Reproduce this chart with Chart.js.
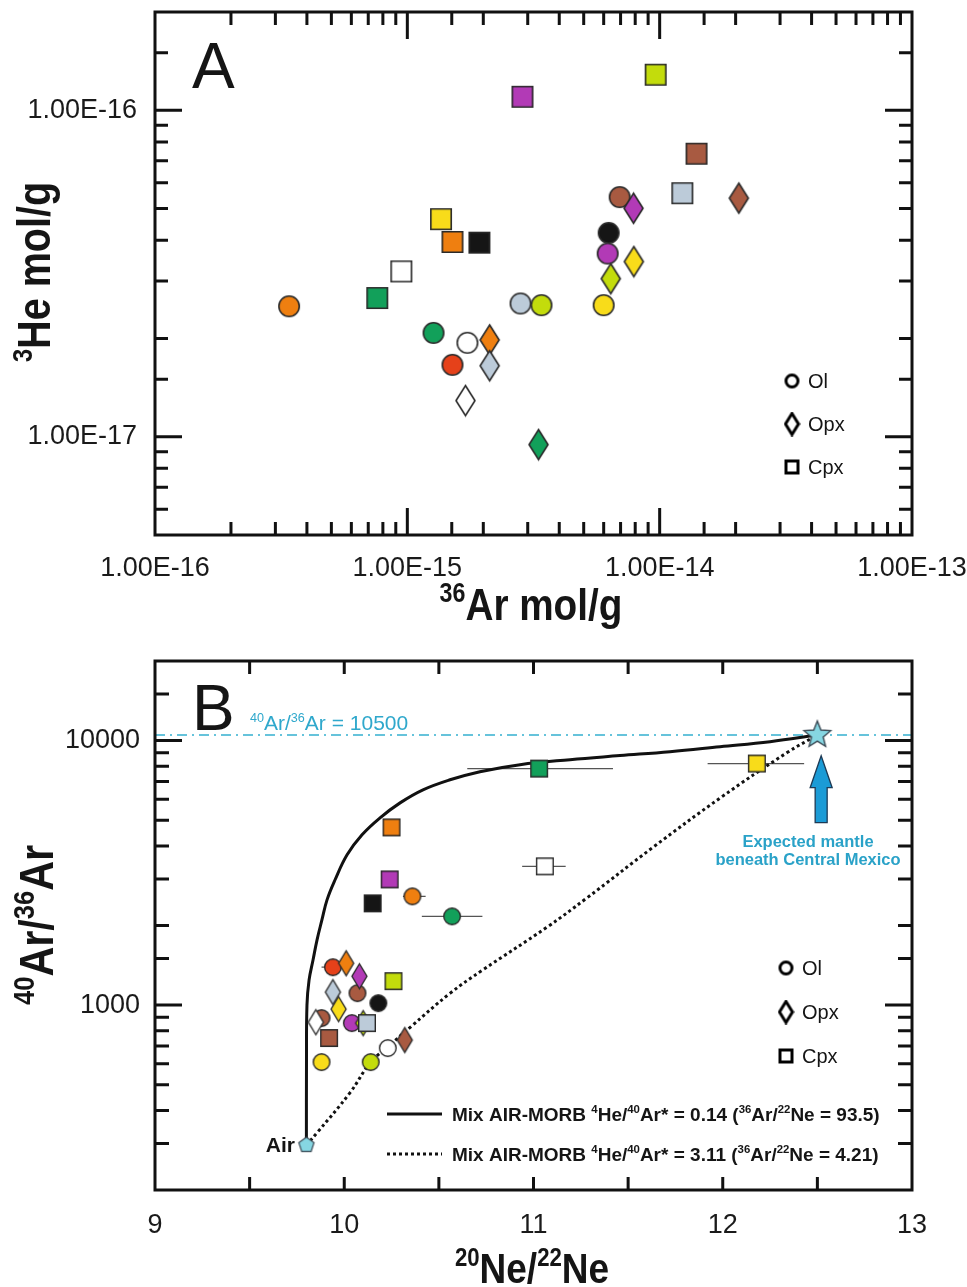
<!DOCTYPE html>
<html>
<head>
<meta charset="utf-8">
<script src="https://cdn.jsdelivr.net/npm/chart.js@4.4.1/dist/chart.umd.min.js"></script>
<style>
  body { margin: 0; background: #fff; }
  canvas { position: absolute; left: 0; }
  #chartA { top: 0; }
  #chartB { top: 640px; }
</style>
</head>
<body>
<canvas id="chartA" width="967" height="640"></canvas>
<canvas id="chartB" width="967" height="647"></canvas>
<script>
// sample colours
const purple = '#b23ab6', lime = '#c3dc0c', brown = '#a85a41', grey = '#bccbd9', yellow = '#f8dc1a',
      orange = '#ef7f10', black = '#151515', white = '#ffffff', green = '#12a05a', red = '#e5411a';

// ---- panel A : 36Ar (mol/g) vs 3He (mol/g) ----
const olAr36A = [3.40e-16, 1.27e-15, 1.73e-15, 1.51e-15, 2.81e-15, 3.40e-15, 6.0e-15, 6.28e-15, 6.22e-15, 6.94e-15];
const olHe3A  = [2.51e-17, 2.08e-17, 1.94e-17, 1.66e-17, 2.56e-17, 2.53e-17, 2.53e-17, 4.21e-17, 3.64e-17, 5.42e-17];
const olColA  = [orange, green, white, red, grey, lime, yellow, black, purple, brown];

const opxAr36A = [7.88e-15, 2.06e-14, 7.9e-15, 6.4e-15, 2.12e-15, 2.12e-15, 1.70e-15, 3.31e-15];
const opxHe3A  = [5.01e-17, 5.38e-17, 3.44e-17, 3.05e-17, 1.98e-17, 1.65e-17, 1.29e-17, 9.46e-18];
const opxColA  = [purple, brown, yellow, lime, orange, grey, white, green];

const cpxAr36A = [2.86e-15, 9.64e-15, 1.40e-14, 1.23e-14, 1.36e-15, 1.51e-15, 1.93e-15, 9.47e-16, 7.6e-16];
const cpxHe3A  = [1.10e-16, 1.285e-16, 7.36e-17, 5.57e-17, 4.64e-17, 3.95e-17, 3.93e-17, 3.21e-17, 2.66e-17];
const cpxColA  = [purple, lime, brown, grey, yellow, orange, black, white, green];

// ---- panel B : 20Ne/22Ne vs 40Ar/36Ar ----
const olNeB  = [10.36, 10.57, 9.94, 10.07, 10.18, 9.88, 10.04, 10.23, 9.88, 10.14];
const olArB  = [2578, 2166, 1391, 1110, 1017, 893, 855, 688, 609, 609];
const olColB = [orange, green, red, brown, black, brown, purple, white, yellow, lime];
const olErrLo = [10.31, 10.41, 9.88, null, null, null, null, 10.19, null, null];
const olErrHi = [10.43, 10.73, 9.98, null, null, null, null, 10.26, null, null];

const opxNeB  = [10.01, 10.08, 9.94, 9.97, 9.85, 10.10, 10.32];
const opxArB  = [1440, 1286, 1120, 966, 862, 855, 738];
const opxColB = [orange, purple, grey, yellow, white, lime, brown];

const cpxNeB  = [11.03, 12.18, 10.25, 10.24, 11.06, 10.15, 10.26, 10.12, 9.92];
const cpxArB  = [7839, 8190, 4697, 2988, 3347, 2426, 1232, 855, 751];
const cpxColB = [green, yellow, orange, purple, white, black, lime, grey, brown];
const cpxErrLo = [10.65, 11.92, null, null, 10.94, null, null, null, null];
const cpxErrHi = [11.42, 12.43, null, null, 11.17, null, null, null, null];

const airNe = [9.80], airAr = [295.5];
const mantleNe = [12.5], mantleAr = [10500];
const mantleLineNe = [9, 13], mantleLineAr = [10500, 10500];

// mixing curves
const mixANe = [9.800, 9.8005, 9.803, 9.814, 9.835, 9.856, 9.882, 9.909, 9.951, 10.015, 10.094, 10.189, 10.295,
                10.416, 10.559, 10.717, 10.929, 11.193, 11.457, 11.721, 11.986, 12.25, 12.5];
const mixAAr = [295.5, 619, 1000, 1243, 1481, 1762, 2099, 2500, 2972, 3700, 4406, 5105, 5816,
                6515, 7110, 7632, 8113, 8474, 8778, 9085, 9487, 9910, 10500];
const mixBNe = [9.80, 9.856, 10.03, 10.14, 10.23, 10.35, 10.56, 10.73, 11.07, 11.28, 11.63, 11.99, 12.34, 12.5];
const mixBAr = [295.5, 329, 466, 609, 695, 826, 1110, 1355, 1968, 2535, 3944, 6095, 9010, 10500];

const FONT = 'Liberation Sans, Arial, sans-serif';
const teal = '#2fa8cc';

function pts(xs, ys) { return xs.map((x, i) => ({ x: x, y: ys[i] })); }
function isDecade(v) { const l = Math.log10(v); return Math.abs(l - Math.round(l)) < 1e-6; }

// marker images used as point styles
function marker(shape, fill, w, h, lw, stroke) {
  const c = document.createElement('canvas');
  c.width = Math.ceil(w) + 4; c.height = Math.ceil(h) + 4;
  const g = c.getContext('2d');
  g.translate(c.width / 2, c.height / 2);
  g.beginPath();
  if (shape === 'circle') {
    g.arc(0, 0, w / 2 - lw / 2, 0, Math.PI * 2);
  } else if (shape === 'square') {
    g.rect(-w / 2 + lw / 2, -h / 2 + lw / 2, w - lw, h - lw);
  } else if (shape === 'diamond') {
    g.moveTo(0, -h / 2); g.lineTo(w / 2, 0); g.lineTo(0, h / 2); g.lineTo(-w / 2, 0); g.closePath();
  } else if (shape === 'star') {
    for (let i = 0; i < 10; i++) {
      const r = i % 2 ? w * 0.22 : w / 2;
      const a = -Math.PI / 2 + i * Math.PI / 5;
      g.lineTo(r * Math.cos(a), r * Math.sin(a));
    }
    g.closePath();
  } else if (shape === 'pentagon') {
    for (let i = 0; i < 5; i++) {
      const a = -Math.PI / 2 + i * 2 * Math.PI / 5;
      g.lineTo(w / 2 * Math.cos(a), w / 2 * Math.sin(a));
    }
    g.closePath();
  }
  if (fill) { g.fillStyle = fill; g.fill(); }
  g.lineJoin = 'miter';
  g.lineWidth = lw; g.strokeStyle = stroke || '#2a2a2a'; g.stroke();
  return c;
}

// text with superscripts: parts = [[text, isSup], ...]; y is the baseline
function rich(ctx, parts, x, y, o) {
  const w8 = o.bold ? 'bold ' : '';
  ctx.save();
  ctx.translate(x, y);
  if (o.rot) ctx.rotate(o.rot);
  ctx.scale(o.sx || 1, 1);
  ctx.fillStyle = o.color || '#151515';
  ctx.textAlign = 'left';
  ctx.textBaseline = 'alphabetic';
  const fonts = parts.map(p => w8 + (p[1] ? o.size * (o.supScale || 0.6) : o.size) + 'px ' + FONT);
  const ws = [];
  let total = 0;
  parts.forEach((p, i) => { ctx.font = fonts[i]; const w = ctx.measureText(p[0]).width; ws.push(w); total += w; });
  let cx = o.align === 'center' ? -total / 2 : (o.align === 'right' ? -total : 0);
  parts.forEach((p, i) => {
    ctx.font = fonts[i];
    ctx.fillText(p[0], cx, p[1] ? -o.size * 0.4 : 0);
    cx += ws[i];
  });
  ctx.restore();
}

// box and inward tick marks
function frameTicks(xMajor, xMinor, yMajor, yMinor) {
  return {
    id: 'frameTicks',
    afterDatasetsDraw(chart) {
      const ctx = chart.ctx, a = chart.chartArea;
      const sx = chart.scales.x, sy = chart.scales.y;
      ctx.save();
      ctx.strokeStyle = '#111';
      ctx.lineWidth = 3;
      ctx.lineCap = 'butt';
      ctx.beginPath();
      sx.ticks.forEach(t => {
        const px = sx.getPixelForValue(t.value);
        if (px <= a.left + 1 || px >= a.right - 1) return;
        const len = (sx.type === 'logarithmic' && isDecade(t.value)) ? xMajor : xMinor;
        ctx.moveTo(px, a.bottom); ctx.lineTo(px, a.bottom - len);
        ctx.moveTo(px, a.top); ctx.lineTo(px, a.top + len);
      });
      sy.ticks.forEach(t => {
        const py = sy.getPixelForValue(t.value);
        if (py <= a.top + 1 || py >= a.bottom - 1) return;
        const len = isDecade(t.value) ? yMajor : yMinor;
        ctx.moveTo(a.left, py); ctx.lineTo(a.left + len, py);
        ctx.moveTo(a.right, py); ctx.lineTo(a.right - len, py);
      });
      ctx.stroke();
      ctx.strokeRect(a.left, a.top, a.right - a.left, a.bottom - a.top);
      ctx.restore();
    }
  };
}

function drawLegend(ctx, items, x, y0, dy, size) {
  items.forEach((it, i) => {
    const y = y0 + i * dy;
    ctx.drawImage(it[0], x - it[0].width / 2, y - it[0].height / 2);
    ctx.font = size + 'px ' + FONT;
    ctx.fillStyle = '#151515';
    ctx.textBaseline = 'middle';
    ctx.fillText(it[1], x + 16, y + 1);
  });
}

const tickFont = { family: FONT, size: 27 };
const tickFontB = { family: 'Liberation Sans Narrow, Liberation Sans, Arial, sans-serif', size: 27 };

// ================= panel A =================
const annotA = {
  id: 'annotA',
  afterDraw(chart) {
    const ctx = chart.ctx;
    rich(ctx, [['A', false]], 192, 88, { size: 64 });
    rich(ctx, [['3', true], ['He mol/g', false]], 50, 272, { size: 46, bold: true, rot: -Math.PI / 2, align: 'center', sx: 0.86 });
    rich(ctx, [['36', true], ['Ar mol/g', false]], 531, 620, { size: 45, bold: true, align: 'center', sx: 0.86 });
    drawLegend(ctx, [
      [marker('circle', null, 15, 15, 3, '#000'), 'Ol'],
      [marker('diamond', null, 13, 21, 3, '#000'), 'Opx'],
      [marker('square', null, 15, 15, 3, '#000'), 'Cpx']
    ], 792, 381, 43, 20);
  }
};

new Chart(document.getElementById('chartA'), {
  type: 'scatter',
  data: {
    datasets: [
      { label: 'Cpx', data: pts(cpxAr36A, cpxHe3A), order: 1, pointRadius: 11,
        pointStyle: cpxColA.map(c => marker('square', c, 22, 22, 1.6)) },
      { label: 'Opx', data: pts(opxAr36A, opxHe3A), order: 2, pointRadius: 11,
        pointStyle: opxColA.map(c => marker('diamond', c, 19, 30, 1.6)) },
      { label: 'Ol', data: pts(olAr36A, olHe3A), order: 3, pointRadius: 11,
        pointStyle: olColA.map(c => marker('circle', c, 22, 22, 1.6)) }
    ]
  },
  options: {
    responsive: false, animation: false, devicePixelRatio: 1,
    layout: { padding: { left: 0, right: 55, top: 8, bottom: 0 } },
    plugins: { legend: { display: false }, tooltip: { enabled: false } },
    scales: {
      x: {
        type: 'logarithmic', min: 1e-16, max: 1e-13,
        grid: { display: false, drawTicks: false }, border: { display: false },
        ticks: { autoSkip: false, maxRotation: 0, padding: 17, font: tickFont, color: '#1a1a1a',
          callback: v => isDecade(v) ? Number(v).toExponential(2).toUpperCase() : '' },
        afterFit: s => { s.height = 105; s.paddingLeft = 0; s.paddingRight = 0; }
      },
      y: {
        type: 'logarithmic', min: 5e-18, max: 2e-16,
        grid: { display: false, drawTicks: false }, border: { display: false },
        ticks: { autoSkip: false, padding: 18, font: tickFont, color: '#1a1a1a',
          callback: v => isDecade(v) ? Number(v).toExponential(2).toUpperCase() : '' },
        afterFit: s => { s.width = 155; s.paddingTop = 0; s.paddingBottom = 0; }
      }
    }
  },
  plugins: [frameTicks(27, 13, 27, 13), annotA]
});

// ================= panel B =================
const errorBars = {
  id: 'errorBars',
  beforeDatasetsDraw(chart) {
    const ctx = chart.ctx, sx = chart.scales.x, sy = chart.scales.y;
    ctx.save();
    ctx.strokeStyle = '#555';
    ctx.lineWidth = 1.2;
    ctx.beginPath();
    [[olArB, olErrLo, olErrHi], [cpxArB, cpxErrLo, cpxErrHi]].forEach(g => {
      g[0].forEach((v, i) => {
        if (g[1][i] == null) return;
        const py = sy.getPixelForValue(v);
        ctx.moveTo(sx.getPixelForValue(g[1][i]), py);
        ctx.lineTo(sx.getPixelForValue(g[2][i]), py);
      });
    });
    ctx.stroke();
    ctx.restore();
  }
};

const annotB = {
  id: 'annotB',
  afterDraw(chart) {
    const ctx = chart.ctx, sx = chart.scales.x, sy = chart.scales.y;
    rich(ctx, [['B', false]], 192, 90, { size: 64 });
    rich(ctx, [['40', true], ['Ar/', false], ['36', true], ['Ar = 10500', false]], 250, 90, { size: 21, color: teal, supScale: 0.6 });
    rich(ctx, [['Expected mantle', false]], 808, 207, { size: 16.5, bold: true, align: 'center', color: '#2aa2c8' });
    rich(ctx, [['beneath Central Mexico', false]], 808, 225, { size: 16.5, bold: true, align: 'center', color: '#2aa2c8' });
    rich(ctx, [['Air', false]], 295, 512, { size: 21, bold: true, align: 'right' });

    // arrow pointing at the mantle end-member
    const ax = sx.getPixelForValue(12.52);
    const yTip = sy.getPixelForValue(8770), yTail = sy.getPixelForValue(4900);
    const yNeck = yTip + 32;
    ctx.save();
    ctx.beginPath();
    ctx.moveTo(ax, yTip);
    ctx.lineTo(ax + 11, yNeck);
    ctx.lineTo(ax + 6, yNeck);
    ctx.lineTo(ax + 6, yTail);
    ctx.lineTo(ax - 6, yTail);
    ctx.lineTo(ax - 6, yNeck);
    ctx.lineTo(ax - 11, yNeck);
    ctx.closePath();
    ctx.fillStyle = '#1b9bd6';
    ctx.fill();
    ctx.strokeStyle = '#1d3a55';
    ctx.lineWidth = 1.3;
    ctx.stroke();
    ctx.restore();

    // legends
    drawLegend(ctx, [
      [marker('circle', null, 15, 15, 3, '#000'), 'Ol'],
      [marker('diamond', null, 13, 21, 3, '#000'), 'Opx'],
      [marker('square', null, 15, 15, 3, '#000'), 'Cpx']
    ], 786, 328, 44, 20);

    ctx.save();
    ctx.strokeStyle = '#111';
    ctx.lineWidth = 3;
    ctx.beginPath(); ctx.moveTo(387, 474); ctx.lineTo(442, 474); ctx.stroke();
    ctx.setLineDash([3, 3]);
    ctx.beginPath(); ctx.moveTo(387, 514); ctx.lineTo(442, 514); ctx.stroke();
    ctx.restore();
    rich(ctx, [['Mix AIR-MORB ', false], ['4', true], ['He/', false], ['40', true], ['Ar* = 0.14 (', false], ['36', true], ['Ar/', false], ['22', true], ['Ne = 93.5)', false]],
      452, 481, { size: 19, bold: true, sx: 1.0 });
    rich(ctx, [['Mix AIR-MORB ', false], ['4', true], ['He/', false], ['40', true], ['Ar* = 3.11 (', false], ['36', true], ['Ar/', false], ['22', true], ['Ne = 4.21)', false]],
      452, 521, { size: 19, bold: true, sx: 1.0 });

    rich(ctx, [['40', true], ['Ar/', false], ['36', true], ['Ar', false]], 53, 285, { size: 48, bold: true, rot: -Math.PI / 2, align: 'center', sx: 0.86, supScale: 0.62 });
    rich(ctx, [['20', true], ['Ne/', false], ['22', true], ['Ne', false]], 532, 643, { size: 43, bold: true, align: 'center', sx: 0.86 });
  }
};

new Chart(document.getElementById('chartB'), {
  type: 'scatter',
  data: {
    datasets: [
      { label: 'mantle', data: pts(mantleNe, mantleAr), order: 0, pointRadius: 13,
        pointStyle: [marker('star', '#86d6e2', 28, 28, 1.4, '#3c4a55')] },
      { label: 'air', data: pts(airNe, airAr), order: 0, pointRadius: 8,
        pointStyle: [marker('pentagon', '#86d6e2', 16, 16, 1.2, '#3c4a55')] },
      { label: 'Cpx', data: pts(cpxNeB, cpxArB), order: 1, pointRadius: 9,
        pointStyle: cpxColB.map(c => marker('square', c, 18, 18, 1.4)) },
      { label: 'Opx', data: pts(opxNeB, opxArB), order: 2, pointRadius: 9,
        pointStyle: opxColB.map(c => marker('diamond', c, 15, 25, 1.4)) },
      { label: 'Ol', data: pts(olNeB, olArB), order: 3, pointRadius: 9,
        pointStyle: olColB.map(c => marker('circle', c, 18, 18, 1.4)) },
      { label: 'mix 0.14', data: pts(mixANe, mixAAr), order: 5, showLine: true, pointRadius: 0,
        borderColor: '#111', borderWidth: 3, tension: 0.4 },
      { label: 'mix 3.11', data: pts(mixBNe, mixBAr), order: 5, showLine: true, pointRadius: 0,
        borderColor: '#111', borderWidth: 3, borderDash: [3, 3], tension: 0.4 },
      { label: '10500', data: pts(mantleLineNe, mantleLineAr), order: 6, showLine: true, pointRadius: 0,
        borderColor: '#35b0cf', borderWidth: 1.6, borderDash: [10, 5, 2, 5] }
    ]
  },
  options: {
    responsive: false, animation: false, devicePixelRatio: 1,
    layout: { padding: { left: 0, right: 55, top: 21, bottom: 0 } },
    plugins: { legend: { display: false }, tooltip: { enabled: false } },
    scales: {
      x: {
        type: 'linear', min: 9, max: 13,
        grid: { display: false, drawTicks: false }, border: { display: false },
        ticks: { stepSize: 0.5, autoSkip: false, maxRotation: 0, padding: 19, font: tickFontB, color: '#1a1a1a',
          callback: v => Number.isInteger(v) ? String(v) : '' },
        afterFit: s => { s.height = 97; s.paddingLeft = 0; s.paddingRight = 0; }
      },
      y: {
        type: 'logarithmic', min: 200, max: 20000,
        grid: { display: false, drawTicks: false }, border: { display: false },
        ticks: { autoSkip: false, padding: 15, font: tickFontB, color: '#1a1a1a',
          callback: v => (isDecade(v) && v >= 1000 && v <= 10000) ? String(Math.round(v)) : '' },
        afterFit: s => { s.width = 155; s.paddingTop = 0; s.paddingBottom = 0; }
      }
    }
  },
  plugins: [errorBars, frameTicks(13, 13, 27, 14), annotB]
});
</script>
</body>
</html>
